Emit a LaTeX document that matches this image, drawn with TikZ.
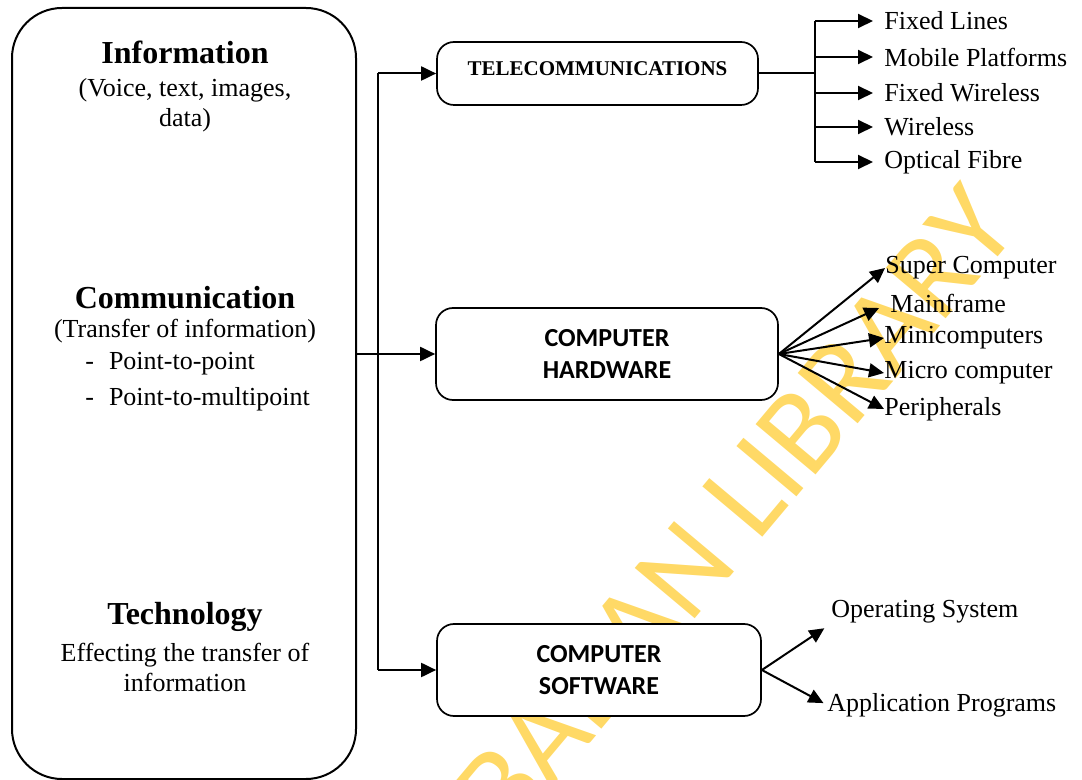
\documentclass[tikz,border=0pt]{standalone}
\usepackage{fontspec}
\setmainfont{Liberation Serif}
\newfontfamily\boxfont{Carlito}
\usepackage{tikz}
\usetikzlibrary{positioning}
\usetikzlibrary{arrows.meta}
\usetikzlibrary{calc}
\definecolor{wmyellow}{RGB}{255,217,102}
\tikzset{
    concept diagram/.style={
            x=0.5pt,y=-0.5pt,
            link/.style={line width=1pt},
            arrow/.style={line width=1pt,-{Triangle[length=7.5pt,width=7pt]}},
            panel/.style={draw,line width=1pt,rounded corners=25pt,minimum width=172pt,minimum height=385.5pt},
            box/.style={draw,fill=white,line width=0.85pt,rounded corners=8.5pt,align=center,
                    font=\boxfont\bfseries\fontsize{13}{16}\selectfont},
            heading/.style={inner sep=0pt,font=\bfseries\fontsize{16}{19}\selectfont},
            body/.style={inner sep=0pt,align=center,font=\fontsize{13}{15}\selectfont},
            leaf/.style={inner sep=0pt,anchor=west,font=\fontsize{13}{15}\selectfont},
            watermark/.style={inner sep=0pt,rotate=50,text=wmyellow,
                    font=\boxfont\fontsize{61}{61}\selectfont}
        }
    }
\begin{document}
\begin{tikzpicture}[concept diagram]
    \useasboundingbox (0,0) rectangle (1082,780);
    \clip (0,0) rectangle (1082,780);
    \node [watermark] (wm) at (735,510) {BADAN LIBRARY};

    \node [panel] (panel) at (184,393.5) {};
    \node [heading] (info) at (185,52) {Information};
    \node [body] (infotxt) at (185,105) {(Voice, text, images,\\ data)};
    \node [heading] (comm) at (185,298) {Communication};
    \node [body] (commtxt) at (185,331) {(Transfer of information)};
    \node [leaf] (ptp) at (85,364) {-\hspace{7.5pt}Point-to-point};
    \node [leaf] (ptm) at (85,399) {-\hspace{7.5pt}Point-to-multipoint};
    \node [heading] (tech) at (185,617) {Technology};
    \node [body] (techtxt) at (185,667) {Effecting the transfer of\\ information};

    \node [box,minimum width=160.5pt,minimum height=31.5pt,text depth=5pt,
           font=\bfseries\fontsize{10.5}{12}\selectfont] (tele) at (597.5,73.5) {TELECOMMUNICATIONS};
    \node [box,minimum width=171pt,minimum height=46pt] (hw) at (607,354) {COMPUTER\\ HARDWARE};
    \node [box,minimum width=162pt,minimum height=46pt] (sw) at (599,670) {COMPUTER\\ SOFTWARE};

    \coordinate (trunk) at (378,357);
    \draw [link] (trunk |- tele.west) -- (trunk |- sw.west);
    \draw [arrow] (trunk |- tele.west) -- (tele.west);
    \draw [arrow] (trunk |- sw.west) -- (sw.west);
    \draw [arrow] (panel.east |- hw.west) -- (hw.west);

    \foreach \name/\txt/\y in {fl/Fixed Lines/21, mp/Mobile Platforms/57, fw/Fixed Wireless/93,
            wl/Wireless/127, of/Optical Fibre/162}
        \node [leaf] (\name) at (884,\y) {\txt};
    \coordinate (bus) at (815,73.5);
    \draw [link] (tele.east) -- (bus);
    \draw [link] (bus |- fl.west) -- (bus |- of.west);
    \foreach \name in {fl,mp,fw,wl,of}
        \draw [arrow,shorten >=5.5pt] (bus |- \name.west) -- (\name.west);

    \node [leaf] (sc) at (885,268) {Super Computer};
    \node [leaf] (mf) at (890,303) {Mainframe};
    \node [leaf] (mc) at (884,338) {Minicomputers};
    \node [leaf] (mi) at (884,373) {Micro computer};
    \node [leaf] (pe) at (884,409) {Peripherals};
    \foreach \name in {sc,mc,mi,pe}
        \draw [arrow] (hw.east) -- (\name.west);
    \draw [arrow,shorten >=6pt] (hw.east) -- (mf.west);

    \node [leaf] (os) at (831,612) {Operating System};
    \node [leaf] (ap) at (827,705) {Application Programs};
    \draw [arrow,shorten >=4pt] (sw.east) -- (os.south west);
    \draw [arrow,shorten >=2pt] (sw.east) -- (ap.west);
\end{tikzpicture}
\end{document}
